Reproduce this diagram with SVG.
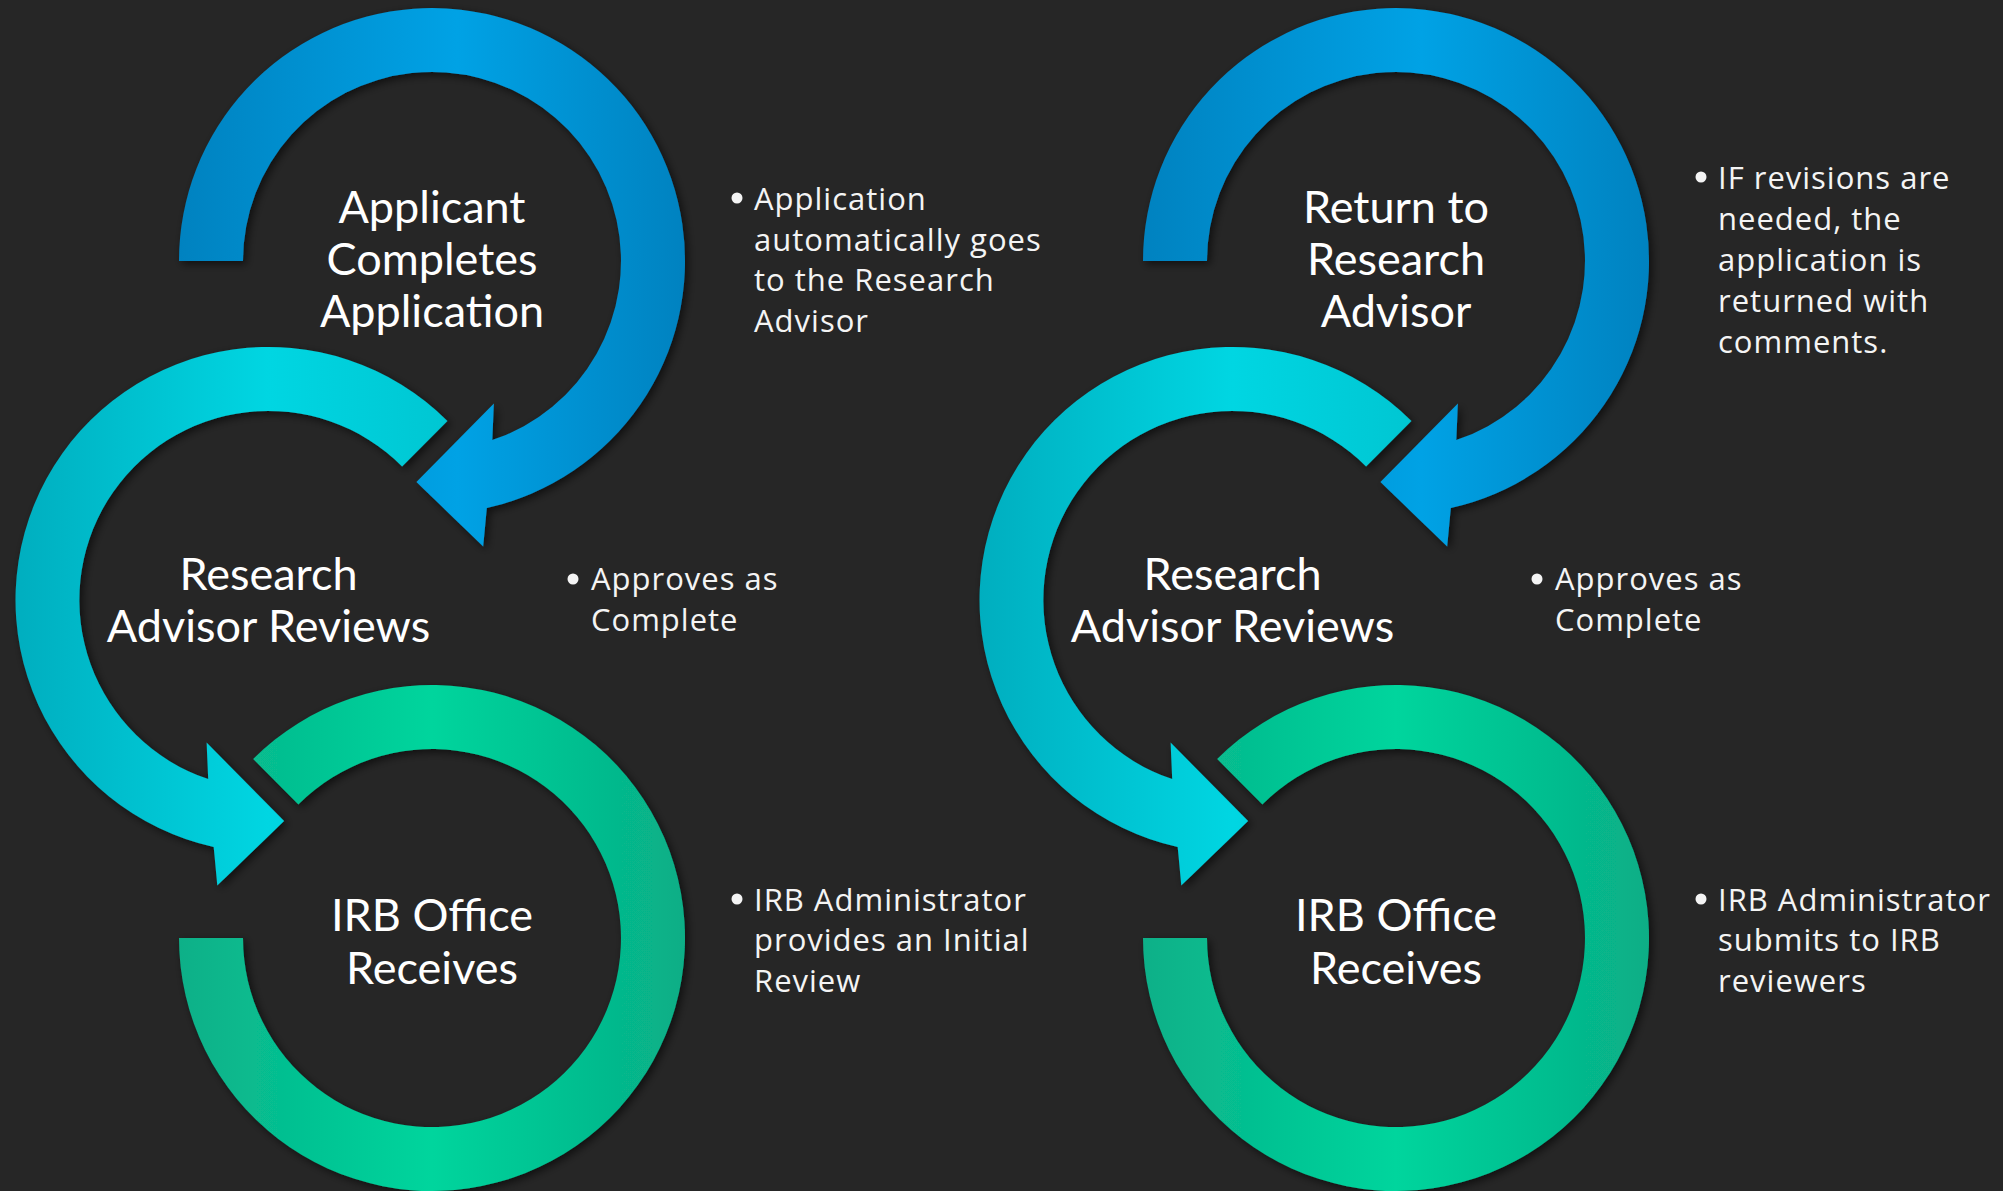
<svg xmlns="http://www.w3.org/2000/svg" width="2003" height="1191" viewBox="0 0 2003 1191">
  <style>
    .lbl { font-family: Lato, "Open Sans", "Liberation Sans", sans-serif; font-size: 45px; fill: #ffffff; text-anchor: middle; }
    .bt { font-family: "Open Sans", Lato, "Liberation Sans", sans-serif; font-size: 31px; letter-spacing: 1px; fill: #f4f4f4; }
    .dot { fill: #f4f4f4; }
    .ring { filter: url(#sh); }
  </style>
  <defs>
    <filter id="sh" x="-20%" y="-20%" width="140%" height="140%">
      <feDropShadow dx="3" dy="3" stdDeviation="4" flood-color="#000" flood-opacity="0.6"/>
    </filter>
    <linearGradient id="gBlue" gradientUnits="userSpaceOnUse" x1="179" y1="0" x2="685" y2="0">
      <stop offset="0" stop-color="#0282c0"/>
      <stop offset="0.55" stop-color="#00a2e5"/>
      <stop offset="1" stop-color="#0282c0"/>
    </linearGradient>
    <linearGradient id="gCyan" gradientUnits="userSpaceOnUse" x1="15" y1="0" x2="522" y2="0">
      <stop offset="0" stop-color="#00aebf"/>
      <stop offset="0.5" stop-color="#00d6e2"/>
      <stop offset="1" stop-color="#00c0cc"/>
    </linearGradient>
    <linearGradient id="gGreen" gradientUnits="userSpaceOnUse" x1="179" y1="0" x2="685" y2="0">
      <stop offset="0" stop-color="#0ab088"/>
      <stop offset="0.5" stop-color="#00d59d"/>
      <stop offset="1" stop-color="#08ae86"/>
    </linearGradient>
    <path id="pTop" d="M179,261 A253,253 0 1 1 486.8,508 L483.2,546.4 L416.4,482.1 L493.9,403.6 L492.3,440.1 A189,189 0 1 0 243,261 Z"/>
    <path id="pMid" d="M447.4,421.1 A253,253 0 1 0 213.7,847 L217.3,885.4 L284.1,821.1 L206.6,742.6 L208.2,779.1 A189,189 0 1 1 402.1,466.4 Z"/>
    <path id="pBot" d="M253.1,759.1 A253,253 0 1 1 179,938 L243,938 A189,189 0 1 0 298.4,804.4 Z"/>
  </defs>
  <rect x="0" y="0" width="2003" height="1191" fill="#262626"/>

  <g id="connectors"></g>

  <!-- Left process -->
  <g id="left-applicant-completes">
    <use href="#pTop" class="ring" fill="url(#gBlue)"/>
    <text class="lbl" x="432" y="223">Applicant</text>
    <text class="lbl" x="432" y="275">Completes</text>
    <text class="lbl" x="432" y="327">Application</text>
  </g>
  <g id="left-advisor-reviews">
    <use href="#pMid" class="ring" fill="url(#gCyan)"/>
    <text class="lbl" x="268.5" y="590">Research</text>
    <text class="lbl" x="268.5" y="642">Advisor Reviews</text>
  </g>
  <g id="left-irb-receives">
    <use href="#pBot" class="ring" fill="url(#gGreen)"/>
    <text class="lbl" x="432" y="931">IRB Office</text>
    <text class="lbl" x="432" y="984">Receives</text>
  </g>
  <g id="left-note-1">
    <circle class="dot" cx="737" cy="198" r="5.5"/>
    <text class="bt" x="754" y="210">Application</text>
    <text class="bt" x="754" y="250.5">automatically goes</text>
    <text class="bt" x="754" y="291">to the Research</text>
    <text class="bt" x="754" y="331.5">Advisor</text>
  </g>
  <g id="left-note-2">
    <circle class="dot" cx="573" cy="579" r="5.5"/>
    <text class="bt" x="591" y="590">Approves as</text>
    <text class="bt" x="591" y="631">Complete</text>
  </g>
  <g id="left-note-3">
    <circle class="dot" cx="737" cy="899" r="5.5"/>
    <text class="bt" x="754" y="910.5">IRB Administrator</text>
    <text class="bt" x="754" y="951">provides an Initial</text>
    <text class="bt" x="754" y="991.5">Review</text>
  </g>

  <!-- Right process -->
  <g id="right-return-to-advisor" transform="translate(964,0)">
    <use href="#pTop" class="ring" fill="url(#gBlue)"/>
    <text class="lbl" x="432" y="223">Return to</text>
    <text class="lbl" x="432" y="275">Research</text>
    <text class="lbl" x="432" y="327">Advisor</text>
  </g>
  <g id="right-advisor-reviews" transform="translate(964,0)">
    <use href="#pMid" class="ring" fill="url(#gCyan)"/>
    <text class="lbl" x="268.5" y="590">Research</text>
    <text class="lbl" x="268.5" y="642">Advisor Reviews</text>
  </g>
  <g id="right-irb-receives" transform="translate(964,0)">
    <use href="#pBot" class="ring" fill="url(#gGreen)"/>
    <text class="lbl" x="432" y="931">IRB Office</text>
    <text class="lbl" x="432" y="984">Receives</text>
  </g>
  <g id="right-note-1">
    <circle class="dot" cx="1701" cy="177" r="5.5"/>
    <text class="bt" x="1718" y="188.5">IF revisions are</text>
    <text class="bt" x="1718" y="229.5">needed, the</text>
    <text class="bt" x="1718" y="270.5">application is</text>
    <text class="bt" x="1718" y="311.5">returned with</text>
    <text class="bt" x="1718" y="352.5">comments.</text>
  </g>
  <g id="right-note-2">
    <circle class="dot" cx="1537" cy="579" r="5.5"/>
    <text class="bt" x="1555" y="590">Approves as</text>
    <text class="bt" x="1555" y="631">Complete</text>
  </g>
  <g id="right-note-3">
    <circle class="dot" cx="1701" cy="899" r="5.5"/>
    <text class="bt" x="1718" y="910.5">IRB Administrator</text>
    <text class="bt" x="1718" y="951">submits to IRB</text>
    <text class="bt" x="1718" y="991.5">reviewers</text>
  </g>
</svg>
